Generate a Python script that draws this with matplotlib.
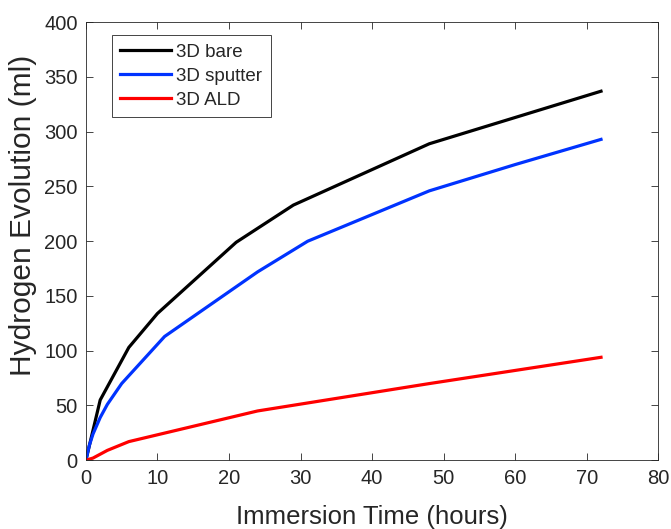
import matplotlib.pyplot as plt

plt.rcParams['font.family'] = ['Liberation Sans', 'DejaVu Sans']

# hydrogen collected during immersion, read per sample
t_bare = [0, 2, 6, 10, 21, 29, 48, 72]
h_bare = [0, 55, 103, 134, 199, 233, 289, 337]
t_sputter = [0, 0.5, 1, 2, 3, 5, 11, 24, 31, 48, 60, 72]
h_sputter = [0, 14, 24, 39, 51, 70, 113, 172, 200, 246, 270, 293]
t_ald = [0, 1, 3, 6, 24, 48, 72]
h_ald = [0, 2, 9, 17, 45, 70, 94]

grey = '#262626'

fig = plt.figure(figsize=(6.71, 5.29), dpi=100)
ax = fig.add_axes([0.128, 0.130, 0.853, 0.828])
ax.plot(t_bare, h_bare, color='black', lw=2.3, label='3D bare')
ax.plot(t_sputter, h_sputter, color='#0033ff', lw=2.3, label='3D sputter')
ax.plot(t_ald, h_ald, color='#ff0000', lw=2.3, label='3D ALD')

ax.set_xlim(0, 80)
ax.set_ylim(0, 400)
ax.set_xticks(range(0, 81, 10))
ax.set_yticks(range(0, 401, 50))
ax.tick_params(direction='in', top=True, right=True, length=5, width=0.6,
               color=grey, labelcolor=grey, labelsize=14.5, pad=6)
for s in ax.spines.values():
    s.set_color(grey)
    s.set_linewidth(0.6)

ax.set_xlabel('Immersion Time (hours)', fontsize=18.5, color=grey, va='top')
ax.xaxis.set_label_coords(0.5, -0.103)
ax.set_ylabel('Hydrogen Evolution (ml)', fontsize=21.5, color=grey)
ax.yaxis.set_label_coords(-0.086, 0.56)

leg = ax.legend(loc='upper left', bbox_to_anchor=(0.045, 0.970), fontsize=13.5,
                fancybox=False, framealpha=1, edgecolor=grey, handlelength=2.7,
                handletextpad=0.3, borderpad=0.45, labelspacing=0.36,
                borderaxespad=0)
leg.get_frame().set_linewidth(0.6)
for txt in leg.get_texts():
    txt.set_color(grey)

fig.savefig('out.png', dpi=100)
